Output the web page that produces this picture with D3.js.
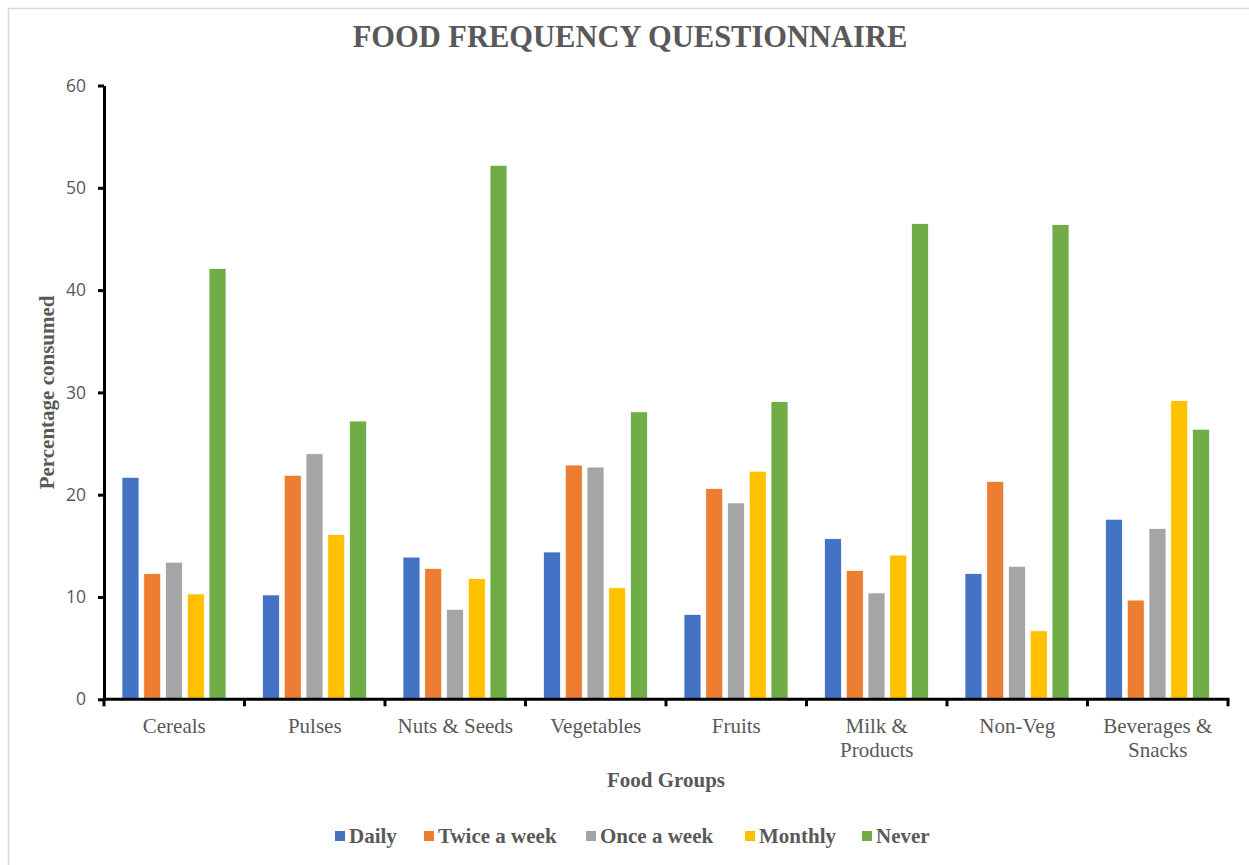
<!DOCTYPE html>
<html>
<head>
<meta charset="utf-8">
<script src="https://cdn.jsdelivr.net/npm/d3@7"></script>
<style>
  html, body { margin: 0; padding: 0; background: #fff; }
  svg { display: block; }
</style>
</head>
<body>
<svg id="chart" width="1249" height="865"></svg>
<script>
// Food groups (x categories); "\n" splits a label over two lines
const categories = ["Cereals", "Pulses", "Nuts & Seeds", "Vegetables", "Fruits",
                    "Milk &\nProducts", "Non-Veg", "Beverages &\nSnacks"];
const seriesNames = ["Daily", "Twice a week", "Once a week", "Monthly", "Never"];

// Percentage consumed per food group, one array per frequency
const daily       = [21.7, 10.2, 13.9, 14.4,  8.3, 15.7, 12.3, 17.6];
const twiceAWeek  = [12.3, 21.9, 12.8, 22.9, 20.6, 12.6, 21.3,  9.7];
const onceAWeek   = [13.4, 24.0,  8.8, 22.7, 19.2, 10.4, 13.0, 16.7];
const monthly     = [10.3, 16.1, 11.8, 10.9, 22.3, 14.1,  6.7, 29.2];
const never       = [42.1, 27.2, 52.2, 28.1, 29.1, 46.5, 46.4, 26.4];

const yTicks = [0, 10, 20, 30, 40, 50, 60];

const seriesValues = [daily, twiceAWeek, onceAWeek, monthly, never];
const colors = ["#4472C4", "#ED7D31", "#A5A5A5", "#FFC000", "#70AD47"];

const svg = d3.select("#chart");
const textColor = "#595959";
const serif = "'Liberation Serif', 'Times New Roman', serif";
const sans = "'Open Sans', 'DejaVu Sans', sans-serif";

// outer frame
svg.append("rect")
  .attr("x", 8.5).attr("y", 8.5)
  .attr("width", 1260).attr("height", 880)
  .attr("fill", "#fff")
  .attr("stroke", "#d9d9d9").attr("stroke-width", 1.5);

const plot = { left: 104, right: 1228, top: 85.5, bottom: 699.3 };

const x0 = d3.scaleBand()
  .domain(categories)
  .range([plot.left, plot.right])
  .paddingInner(0).paddingOuter(0);

const x1 = d3.scaleBand()
  .domain(seriesNames)
  .range([18, 122])
  .paddingInner(0.22).paddingOuter(0);

const y = d3.scaleLinear()
  .domain([0, 60])
  .range([plot.bottom, plot.top]);

const color = d3.scaleOrdinal().domain(seriesNames).range(colors);

// bars
const groups = svg.append("g").selectAll("g")
  .data(categories)
  .join("g")
  .attr("transform", d => `translate(${x0(d)},0)`);

groups.selectAll("rect")
  .data((c, i) => seriesNames.map((s, k) => ({ key: s, value: seriesValues[k][i] })))
  .join("rect")
  .attr("x", d => x1(d.key))
  .attr("y", d => y(d.value))
  .attr("width", x1.bandwidth())
  .attr("height", d => y(0) - y(d.value))
  .attr("fill", d => color(d.key))
  .attr("stroke", "#fff")
  .attr("stroke-width", 0.75);

// y axis
const yAxis = svg.append("g")
  .attr("transform", `translate(${plot.left},0)`)
  .call(d3.axisLeft(y).tickValues(yTicks).tickSize(6).tickSizeOuter(0).tickPadding(12));
yAxis.select(".domain").attr("stroke", "#000").attr("stroke-width", 3);
yAxis.selectAll(".tick line").attr("stroke", "#000").attr("stroke-width", 3);
yAxis.selectAll(".tick text")
  .attr("fill", textColor)
  .style("font-family", sans)
  .style("font-size", "17.5px");

// x axis with ticks on category boundaries
const xAxis = svg.append("g")
  .attr("transform", `translate(0,${plot.bottom})`);
xAxis.append("line")
  .attr("x1", plot.left - 1.5).attr("x2", plot.right + 1.5)
  .attr("stroke", "#000").attr("stroke-width", 3);
const bounds = categories.map(c => x0(c)).concat([x0(categories[categories.length - 1]) + x0.bandwidth()]);
xAxis.selectAll("line.tk")
  .data(bounds)
  .join("line")
  .attr("class", "tk")
  .attr("x1", d => d).attr("x2", d => d)
  .attr("y1", 0).attr("y2", 7)
  .attr("stroke", "#000").attr("stroke-width", 3);

const xLabels = xAxis.selectAll("text.cat")
  .data(categories)
  .join("text")
  .attr("class", "cat")
  .attr("x", d => x0(d) + x0.bandwidth() / 2)
  .attr("y", 33.5)
  .attr("text-anchor", "middle")
  .attr("fill", textColor)
  .style("font-family", serif)
  .style("font-size", "21px");
xLabels.each(function (d) {
  const lines = d.split("\n");
  const t = d3.select(this);
  lines.forEach((ln, i) => {
    t.append("tspan")
      .attr("x", x0(d) + x0.bandwidth() / 2)
      .attr("dy", i === 0 ? 0 : 24)
      .text(ln);
  });
});

// title
svg.append("text")
  .attr("x", 630).attr("y", 47)
  .attr("text-anchor", "middle")
  .attr("fill", textColor)
  .style("font-family", serif)
  .style("font-weight", "bold")
  .style("font-size", "30.5px")
  .text("FOOD FREQUENCY QUESTIONNAIRE");

// axis titles
svg.append("text")
  .attr("x", (plot.left + plot.right) / 2).attr("y", 787)
  .attr("text-anchor", "middle")
  .attr("fill", textColor)
  .style("font-family", serif)
  .style("font-weight", "bold")
  .style("font-size", "21px")
  .text("Food Groups");

svg.append("text")
  .attr("transform", `translate(54,${(plot.top + plot.bottom) / 2}) rotate(-90)`)
  .attr("text-anchor", "middle")
  .attr("fill", textColor)
  .style("font-family", serif)
  .style("font-weight", "bold")
  .style("font-size", "21px")
  .text("Percentage consumed");

// legend
const legendX = [335, 424, 586, 745, 862];
const legend = svg.append("g").selectAll("g")
  .data(seriesNames)
  .join("g")
  .attr("transform", (d, i) => `translate(${legendX[i]},836)`);
legend.append("rect")
  .attr("x", 0).attr("y", -5)
  .attr("width", 10).attr("height", 10)
  .attr("fill", d => color(d));
legend.append("text")
  .attr("x", 14).attr("y", 7)
  .attr("fill", textColor)
  .style("font-family", serif)
  .style("font-weight", "bold")
  .style("font-size", "21px")
  .text(d => d);
</script>
</body>
</html>
